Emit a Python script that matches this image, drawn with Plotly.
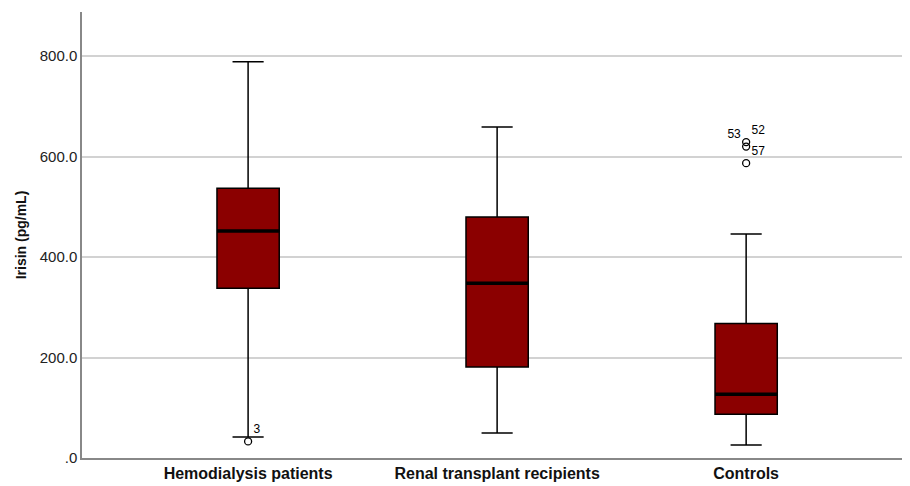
import plotly.graph_objects as go

categories = ["Hemodialysis patients", "Renal transplant recipients", "Controls"]
positions = [0, 1, 2]
q1 = [338, 181, 87]
median = [452, 348, 127]
q3 = [537, 480, 268]
lower_fence = [42, 50, 26]
upper_fence = [789, 659, 446]

outlier_x = [0, 2, 2, 2]
outlier_y = [33, 629, 620, 587]
outlier_labels = ["3", "52", "53", "57"]
outlier_textpos = ["top right", "top right", "top left", "top right"]

y_tickvals = [0, 200, 400, 600, 800]
y_ticktext = [".0", "200.0", "400.0", "600.0", "800.0"]

BOX_W = 0.25
FILL = "#8b0000"

fig = go.Figure()
for i in range(len(categories)):
    fig.add_trace(go.Box(
        x=[positions[i]], q1=[q1[i]], median=[median[i]], q3=[q3[i]],
        lowerfence=[lower_fence[i]], upperfence=[upper_fence[i]],
        width=BOX_W, whiskerwidth=0.5, fillcolor=FILL,
        line=dict(color="black", width=1.5), boxpoints=False,
        showlegend=False, hoverinfo="skip",
    ))
    fig.add_trace(go.Scatter(
        x=[positions[i] - BOX_W / 2, positions[i] + BOX_W / 2],
        y=[median[i], median[i]], mode="lines",
        line=dict(color="black", width=3.5), showlegend=False, hoverinfo="skip",
    ))

fig.add_trace(go.Scatter(
    x=outlier_x, y=outlier_y, mode="markers+text",
    marker=dict(symbol="circle-open", size=7, color="black", line=dict(width=1.3)),
    text=outlier_labels, textposition=outlier_textpos,
    textfont=dict(family="Liberation Sans, Arial", size=12, color="black"),
    showlegend=False, hoverinfo="skip",
))

fig.update_layout(
    width=902, height=478,
    margin=dict(l=74, r=0, t=4, b=28),
    paper_bgcolor="white", plot_bgcolor="white",
    font=dict(family="Liberation Sans, Arial", color="#222"),
)
fig.update_xaxes(
    range=[-0.667, 2.658], tickvals=positions,
    ticktext=["<b>%s</b>" % c for c in categories],
    tickfont=dict(size=16, color="#111"), automargin=False,
    showgrid=False, zeroline=False, showline=True, linecolor="#888", linewidth=1.5,
    ticks="",
)
fig.update_yaxes(
    range=[0, 888], tickvals=y_tickvals, ticktext=y_ticktext,
    tickfont=dict(size=15, color="#222"), automargin=False,
    showgrid=True, gridcolor="#d2d2d2", gridwidth=1.5,
    zeroline=False, showline=True, linecolor="#888", linewidth=1.5, ticks="",
    title=dict(text="<b>Irisin (pg/mL)</b>", font=dict(size=14, color="#111"), standoff=10),
)

fig.write_html("out.html")
